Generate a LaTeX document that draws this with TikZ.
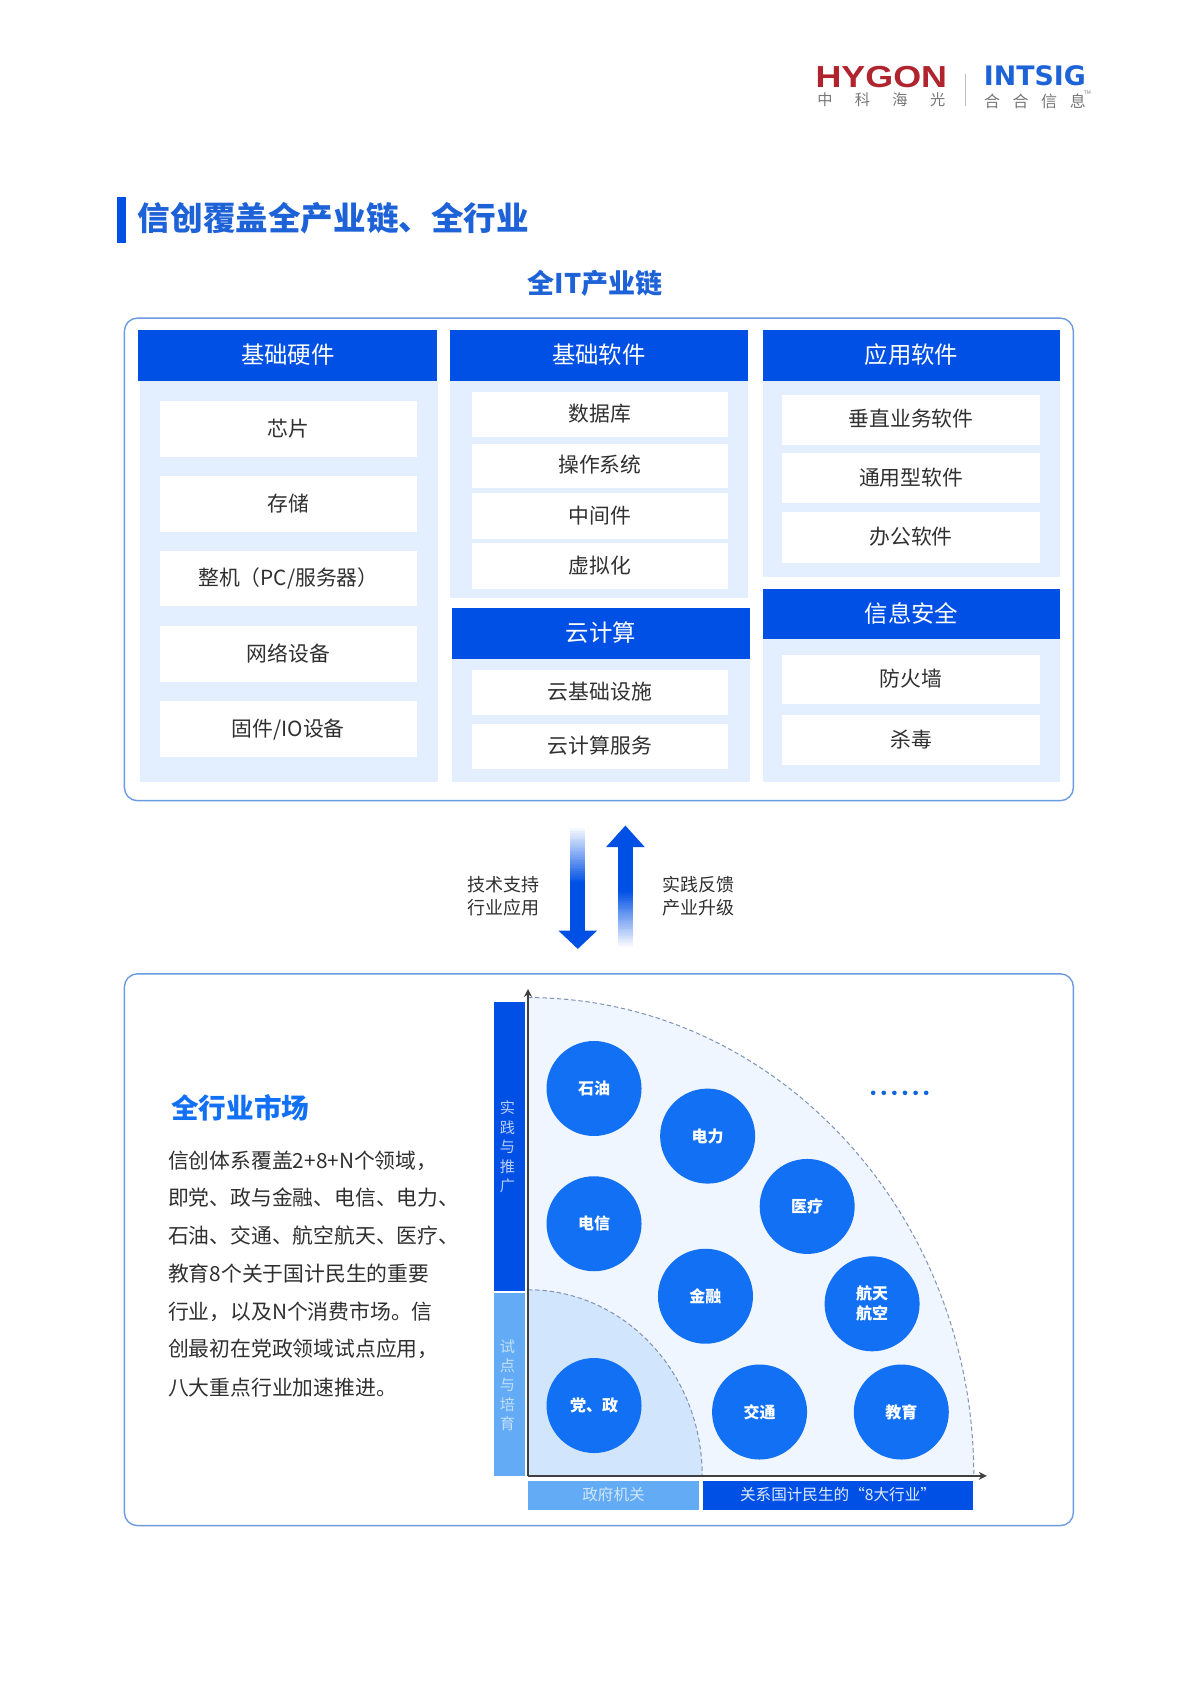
\documentclass[tikz,border=0pt]{standalone}
\usepackage{fontspec}
\setmainfont{Noto Sans CJK SC}
\newfontfamily\logofont{DejaVu Sans}
\newfontfamily\logotwo{Liberation Sans}
\definecolor{hblue}{HTML}{0050E6}
\definecolor{pale}{HTML}{E3EFFF}
\definecolor{edge}{HTML}{6D9BE0}
\definecolor{lblue}{HTML}{63ACF5}
\definecolor{cblue}{HTML}{1270F5}
\definecolor{tblue}{HTML}{1E62D8}
\definecolor{ink}{HTML}{303030}
\definecolor{quarter}{HTML}{F0F6FF}
\definecolor{inner}{HTML}{D1E5FD}
\definecolor{dashc}{HTML}{7F93B8}
\definecolor{hred}{HTML}{B0242E}
\definecolor{lgray}{HTML}{777777}
\newcommand{\fs}[1]{\fontsize{#1pt}{#1pt}\selectfont}
\newcommand{\rnode}[7]{%
  \pgfmathsetmacro\rcx{(#3+#5)/2}\pgfmathsetmacro\rcy{(#4+#6)/2}%
  \pgfmathsetmacro\rw{(#5-#3)*0.541}\pgfmathsetmacro\rh{(#6-#4)*0.541}%
  \node[#1,minimum width=\rw pt,minimum height=\rh pt,inner sep=0pt] (#2) at (\rcx,\rcy) {\raisebox{1.6pt}{#7}};}
\tikzset{
  header/.style={fill=hblue,text=white,font=\fs{11.7}},
  panel/.style={fill=pale},
  item/.style={fill=white,text=ink,font=\fs{10.4}},
  frame/.style={draw=edge,line width=0.7pt,rounded corners=6.5pt,fill=white},
  para/.style={anchor=west,text=ink,font=\fs{10.4},inner sep=0pt},
  note/.style={text=ink,font=\fs{9},inner sep=0pt,align=center},
  disc/.style={circle,fill=cblue,text=white,minimum size=47.5pt,inner sep=0pt,font=\bfseries\fs{8},align=center},
  vlabel/.style={text=#1,font=\fs{7.6},inner sep=0pt},
  axisline/.style={draw=black!75,line width=0.9pt,-{Stealth[length=4pt,width=4pt]}},
  quarterline/.style={draw=dashc,line width=0.5pt,dash pattern=on 2.2pt off 1.4pt},
}
\usetikzlibrary{arrows.meta}
\begin{document}
\begin{tikzpicture}[x=0.541pt,y=-0.541pt]
\useasboundingbox (0,0) rectangle (1109.06,1567.47);
\fill[white] (0,0) rectangle (1109.06,1567.47);
% logo
\node[text=hred,inner sep=0pt,xscale=1.18,font=\logotwo\bfseries\fs{15.2}] (hygon) at (814.5,71) {HYGON};
\node[text=lgray,inner sep=0pt,font=\fs{7.6}] (hygoncn) at (814.5,92.5) {中\hspace{11.2pt}科\hspace{11.2pt}海\hspace{11.2pt}光};
\draw[black!25,line width=0.5pt] (892,68) -- (892,98);
\node[text=tblue,inner sep=0pt,font=\logofont\bfseries\fs{13.4}] (intsig) at (956.5,70) {INTSIG};
\node[text=lgray,inner sep=0pt,font=\fs{8}] (intsigcn) at (956.5,93.5) {合\hspace{6.3pt}合\hspace{6.3pt}信\hspace{6.3pt}息};
\node[text=lgray,inner sep=0pt,font=\fs{2.5}] (tm) at (1005,86) {TM};
% title
\fill[hblue] (108,182) rectangle (116,225);
\node[anchor=west,text=tblue,inner sep=0pt,font=\bfseries\fs{16.3}] (title) at (127,202) {信创覆盖全产业链、全行业};
\node[text=tblue,inner sep=0pt,font=\bfseries\fs{13.5}] (chain) at (550,262) {全IT产业链};
% upper frame
\rnode{frame}{upper}{115}{294}{992}{740}{}
\rnode{panel}{p1}{129}{352}{405}{723}{}
\rnode{header}{h1}{128}{305}{404}{352}{基础硬件}
\rnode{item}{a1}{148}{371}{385}{422}{芯片}
\rnode{item}{a2}{148}{440}{385}{492}{存储}
\rnode{item}{a3}{148}{509}{385}{560}{整机（PC/服务器）}
\rnode{item}{a4}{148}{579}{385}{630}{网络设备}
\rnode{item}{a5}{148}{648}{385}{700}{固件/IO设备}
\rnode{panel}{p2}{416}{352}{691}{553}{}
\rnode{header}{h2}{416}{305}{691}{352}{基础软件}
\rnode{item}{b1}{436}{362}{673}{404}{数据库}
\rnode{item}{b2}{436}{410}{673}{451}{操作系统}
\rnode{item}{b3}{436}{456}{673}{498}{中间件}
\rnode{item}{b4}{436}{502}{673}{544}{虚拟化}
\rnode{panel}{p3}{418}{609}{693}{723}{}
\rnode{header}{h3}{418}{562}{693}{609}{云计算}
\rnode{item}{c1}{436}{619}{673}{661}{云基础设施}
\rnode{item}{c2}{436}{669}{673}{711}{云计算服务}
\rnode{panel}{p4}{705}{352}{980}{533}{}
\rnode{header}{h4}{705}{305}{980}{352}{应用软件}
\rnode{item}{d1}{723}{365}{961}{411}{垂直业务软件}
\rnode{item}{d2}{723}{419}{961}{465}{通用型软件}
\rnode{item}{d3}{723}{473}{961}{520}{办公软件}
\rnode{panel}{p5}{705}{591}{980}{723}{}
\rnode{header}{h5}{705}{544}{980}{591}{信息安全}
\rnode{item}{e1}{723}{605}{961}{651}{防火墙}
\rnode{item}{e2}{723}{661}{961}{707}{杀毒}
% arrows between frames
\foreach \k in {0,...,30} {
  \pgfmathsetmacro\pc{(\k+1)*100/31}
  \pgfmathsetmacro\sy{765+\k*52/31}
  \pgfmathsetmacro\ey{875-\k*52/31}
  \fill[hblue!\pc!white] (527,\sy) rectangle (541,861);
  \fill[hblue!\pc!white] (571,782) rectangle (585,\ey);
}
\fill[hblue] (516,860) -- (552,860) -- (534,877) -- cycle;
\fill[hblue] (560,783) -- (596,783) -- (578,763) -- cycle;
\node[note] (n1) at (465,828) {技术支持\\[2.5pt]行业应用};
\node[note] (n2) at (646,828) {实践反馈\\[2.5pt]产业升级};
% lower frame
\rnode{frame}{lower}{115}{900}{992}{1410}{}
\node[anchor=west,text=cblue,inner sep=0pt,font=\bfseries\fs{13.8}] (market) at (158,1024) {全行业市场};
\node[para] (t1) at (155,1073) {信创体系覆盖2+8+N个领域，};
\node[para] (t2) at (155,1107) {即党、政与金融、电信、电力、};
\node[para] (t3) at (155,1142) {石油、交通、航空航天、医疗、};
\node[para] (t4) at (155,1177) {教育8个关于国计民生的重要};
\node[para] (t5) at (155,1212) {行业，以及N个消费市场。信};
\node[para] (t6) at (155,1247) {创最初在党政领域试点应用，};
\node[para] (t7) at (155,1282) {八大重点行业加速推进。};
% quarter fields
\fill[quarter] (488,1364) -- (488,922) arc[start angle=90,end angle=0,x radius=412,y radius=-442] -- cycle;
\draw[quarterline] (488,922) arc[start angle=90,end angle=0,x radius=412,y radius=-442];
\fill[inner] (488,1364) -- (488,1192) arc[start angle=90,end angle=0,x radius=161,y radius=-172] -- cycle;
\draw[quarterline] (488,1192) arc[start angle=90,end angle=0,x radius=161,y radius=-172];
\coordinate (origin) at (488,1364);
\coordinate (ytip) at (488,914);
\coordinate (xtip) at (912,1364);
\draw[axisline] (origin) -- (ytip);
\draw[axisline] (origin) -- (xtip);
% side bars
\rnode{fill=hblue}{v1}{457}{926}{485}{1193}{}
\rnode{fill=lblue}{v2}{457}{1195}{485}{1364}{}
\foreach \ch [count=\i from 0] in {实,践,与,推,广} {
  \pgfmathsetmacro\vy{1024+18*\i}
  \node[vlabel=white!72!hblue] (va\i) at (469,\vy) {\ch};
}
\foreach \ch [count=\i from 0] in {试,点,与,培,育} {
  \pgfmathsetmacro\vy{1245+17.6*\i}
  \node[vlabel=white!62!lblue] (vb\i) at (469,\vy) {\ch};
}
\rnode{fill=lblue,text=white!70!lblue,font=\fs{7.8}}{x1}{488}{1369}{646}{1396}{政府机关}
\rnode{fill=hblue,text=white!88!hblue,font=\fs{7.8}}{x2}{650}{1369}{899}{1396}{关系国计民生的“8大行业”}
% discs
\node[disc] (k1) at (549,1006) {石油};
\node[disc] (k2) at (654,1050) {电力};
\node[disc] (k3) at (549,1131) {电信};
\node[disc] (k4) at (746,1115) {医疗};
\node[disc] (k5) at (652,1198) {金融};
\node[disc] (k6) at (806,1205) {航天\\[2pt]航空};
\node[disc] (k7) at (549,1299) {党、政};
\node[disc] (k8) at (702,1305) {交通};
\node[disc] (k9) at (833,1305) {教育};
\foreach \dx in {808,817.8,827.6,837.4,847.2,857} \fill[cblue!90!black] (\dx-1,1010) circle (1.15pt);
\end{tikzpicture}
\end{document}
